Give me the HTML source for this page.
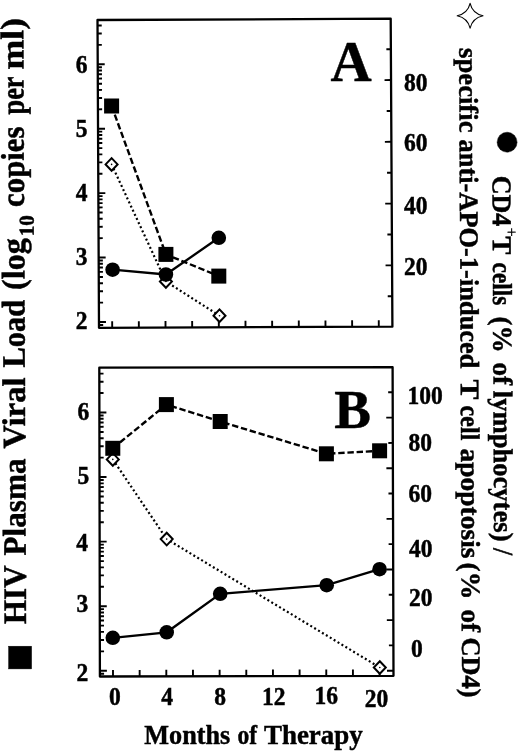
<!DOCTYPE html>
<html lang="en"><head><meta charset="utf-8"><title>Figure</title>
<style>html,body{margin:0;padding:0;background:#fff;overflow:hidden}svg{display:block;filter:blur(0.3px)}</style></head>
<body>
<svg width="520" height="752" viewBox="0 0 520 752">
<rect width="520" height="752" fill="#fff"/>
<g id="plots">
<polygon points="97.5,20 390.7,18.7 392.4,326.7 99,327.8" fill="none" stroke="#000" stroke-width="2.3" stroke-linejoin="round"/>
<path d="M98.99 324.95L103.19 324.93M98.97 322L105.97 321.97M98.88 302.61L103.08 302.59M98.82 291.26L103.02 291.24M98.78 283.21L102.98 283.19M98.75 276.97L102.95 276.95M98.73 271.87L102.93 271.85M98.71 267.55L102.91 267.54M98.69 263.82L102.89 263.8M98.67 260.52L102.87 260.5M98.66 257.57L105.66 257.54M98.56 238.18L102.76 238.16M98.51 226.84L102.71 226.82M98.47 218.79L102.67 218.77M98.44 212.54L102.64 212.53M98.41 207.44L102.61 207.42M98.39 203.13L102.59 203.11M98.37 199.39L102.57 199.37M98.36 196.1L102.56 196.08M98.34 193.15L105.34 193.12M98.25 173.76L102.45 173.74M98.19 162.41L102.39 162.39M98.15 154.36L102.35 154.34M98.12 148.12L102.32 148.1M98.1 143.02L102.3 143M98.08 138.7L102.28 138.69M98.06 134.97L102.26 134.95M98.04 131.67L102.24 131.65M98.03 128.73L105.03 128.69M97.94 109.33L102.14 109.31M97.88 97.99L102.08 97.97M97.84 89.94L102.04 89.92M97.81 83.69L102.01 83.68M97.79 78.59L101.99 78.57M97.76 74.28L101.96 74.26M97.75 70.54L101.95 70.52M97.73 67.25L101.93 67.23M97.72 64.3L104.72 64.27M97.62 44.91L101.82 44.89M97.57 33.56L101.77 33.54M97.53 25.51L101.73 25.49M392.23 296.22L387.73 296.24M392.06 265.34L385.56 265.37M391.89 234.46L387.39 234.48M391.72 203.58L385.22 203.61M391.55 172.7L387.05 172.72M391.38 141.82L384.88 141.85M391.21 110.94L386.71 110.96M391.04 80.06L384.54 80.09M390.87 49.18L386.37 49.2M112.2 327.75L112.17 321.25M138.86 327.65L138.83 321.15M165.52 327.55L165.49 321.05M192.18 327.45L192.15 320.95M218.84 327.35L218.81 320.85M245.5 327.25L245.47 320.75M272.16 327.15L272.13 320.65M298.82 327.05L298.79 320.55M325.48 326.95L325.45 320.45M352.14 326.85L352.11 320.35M378.8 326.75L378.77 320.25" stroke="#000" stroke-width="1.9" fill="none"/>
<path d="M111.6 164.4L165.9 281.5L219.5 315.7" fill="none" stroke="#000" stroke-width="2.2" stroke-dasharray="2.0 2.55"/>
<path d="M111.6 106L165.9 254.4L218.8 276.1" fill="none" stroke="#000" stroke-width="2.4" stroke-dasharray="6.4 2.8"/>
<path d="M112.6 269.7L165.9 274.5L218.8 237.8" fill="none" stroke="#000" stroke-width="2.3"/>
<path d="M111.6 158.1L117.6 164.4L111.6 170.7L105.6 164.4z" fill="#fff" stroke="#000" stroke-width="2"/>
<circle cx="111.6" cy="164.4" r="0.8" fill="#000"/>
<path d="M165.9 275.2L171.9 281.5L165.9 287.8L159.9 281.5z" fill="#fff" stroke="#000" stroke-width="2"/>
<circle cx="165.9" cy="281.5" r="0.8" fill="#000"/>
<path d="M219.5 309.4L225.5 315.7L219.5 322L213.5 315.7z" fill="#fff" stroke="#000" stroke-width="2"/>
<circle cx="219.5" cy="315.7" r="0.8" fill="#000"/>
<rect x="104.1" y="98.5" width="15" height="15" fill="#000"/>
<rect x="158.4" y="246.9" width="15" height="15" fill="#000"/>
<rect x="211.3" y="268.6" width="15" height="15" fill="#000"/>
<circle cx="112.6" cy="269.7" r="7.3" fill="#000"/>
<circle cx="165.9" cy="274.5" r="7.3" fill="#000"/>
<circle cx="218.8" cy="237.8" r="7.3" fill="#000"/>
<polygon points="99.3,367.7 392.6,367.2 393.5,675.8 99.9,676.5" fill="none" stroke="#000" stroke-width="2.3" stroke-linejoin="round"/>
<path d="M99.89 673.75L104.09 673.75M99.89 670.8L106.89 670.79M99.85 651.36L104.05 651.35M99.83 639.99L104.03 639.98M99.81 631.92L104.01 631.91M99.8 625.66L104 625.66M99.79 620.55L103.99 620.54M99.78 616.23L103.98 616.22M99.78 612.48L103.98 612.48M99.77 609.18L103.97 609.17M99.76 606.22L106.76 606.21M99.73 586.79L103.93 586.78M99.7 575.41L103.9 575.41M99.69 567.35L103.89 567.34M99.68 561.09L103.88 561.08M99.67 555.98L103.87 555.97M99.66 551.65L103.86 551.65M99.65 547.91L103.85 547.9M99.64 544.6L103.84 544.6M99.64 541.65L106.64 541.64M99.6 522.21L103.8 522.2M99.58 510.84L103.78 510.83M99.56 502.77L103.76 502.76M99.55 496.51L103.75 496.51M99.54 491.4L103.74 491.39M99.53 487.08L103.73 487.07M99.52 483.33L103.72 483.33M99.52 480.03L103.72 480.02M99.51 477.07L106.51 477.06M99.47 457.64L103.67 457.63M99.45 446.26L103.65 446.26M99.44 438.2L103.64 438.19M99.42 431.94L103.62 431.93M99.41 426.83L103.61 426.82M99.41 422.5L103.61 422.5M99.4 418.76L103.6 418.75M99.39 415.45L103.59 415.45M99.39 412.5L106.39 412.49M99.35 393.06L103.55 393.05M99.33 381.69L103.53 381.68M99.31 373.62L103.51 373.61M393.49 670.71L386.99 670.72M393.41 645.4L388.91 645.41M393.34 620.09L386.84 620.1M393.26 594.78L388.76 594.79M393.19 569.47L386.69 569.48M393.12 544.16L388.62 544.17M393.04 518.85L386.54 518.86M392.97 493.54L388.47 493.55M392.89 468.23L386.39 468.24M392.82 442.92L388.32 442.93M392.75 417.61L386.25 417.62M392.67 392.3L388.17 392.31M113 676.47L112.99 669.97M139.66 676.41L139.65 669.91M166.32 676.34L166.31 669.84M192.98 676.28L192.97 669.78M219.64 676.21L219.63 669.71M246.3 676.15L246.29 669.65M272.96 676.09L272.95 669.59M299.62 676.02L299.61 669.52M326.28 675.96L326.27 669.46M352.94 675.9L352.93 669.4M379.6 675.83L379.59 669.33" stroke="#000" stroke-width="1.9" fill="none"/>
<path d="M112.8 459.4L166.7 539.1L379.8 667.5" fill="none" stroke="#000" stroke-width="2.2" stroke-dasharray="2.0 2.55"/>
<path d="M112.8 448.3L166.4 404.6L220.2 421.5L326.4 453.8L379.6 450.8" fill="none" stroke="#000" stroke-width="2.4" stroke-dasharray="6.4 2.8"/>
<path d="M112.8 637.8L166.7 632.3L220.2 593.8L326.7 585.2L379.6 569.2" fill="none" stroke="#000" stroke-width="2.3"/>
<path d="M112.8 453.1L118.8 459.4L112.8 465.7L106.8 459.4z" fill="#fff" stroke="#000" stroke-width="2"/>
<circle cx="112.8" cy="459.4" r="0.8" fill="#000"/>
<path d="M166.7 532.8L172.7 539.1L166.7 545.4L160.7 539.1z" fill="#fff" stroke="#000" stroke-width="2"/>
<circle cx="166.7" cy="539.1" r="0.8" fill="#000"/>
<path d="M379.8 661.2L385.8 667.5L379.8 673.8L373.8 667.5z" fill="#fff" stroke="#000" stroke-width="2"/>
<circle cx="379.8" cy="667.5" r="0.8" fill="#000"/>
<rect x="105.3" y="440.8" width="15" height="15" fill="#000"/>
<rect x="158.9" y="397.1" width="15" height="15" fill="#000"/>
<rect x="212.7" y="414" width="15" height="15" fill="#000"/>
<rect x="318.9" y="446.3" width="15" height="15" fill="#000"/>
<rect x="372.1" y="443.3" width="15" height="15" fill="#000"/>
<circle cx="112.8" cy="637.8" r="7.3" fill="#000"/>
<circle cx="166.7" cy="632.3" r="7.3" fill="#000"/>
<circle cx="220.2" cy="593.8" r="7.3" fill="#000"/>
<circle cx="326.7" cy="585.2" r="7.3" fill="#000"/>
<circle cx="379.6" cy="569.2" r="7.3" fill="#000"/>
</g>
<g font-family="'Liberation Serif', 'Times New Roman', serif" font-weight="bold" fill="#000" stroke="#000" stroke-width="0.45">
<text transform="translate(81.6,72.62) scale(1,1.06)" font-size="23.5" text-anchor="middle">6</text>
<text transform="translate(81.6,137.02) scale(1,1.06)" font-size="23.5" text-anchor="middle">5</text>
<text transform="translate(81.6,201.42) scale(1,1.06)" font-size="23.5" text-anchor="middle">4</text>
<text transform="translate(81.6,265.42) scale(1,1.06)" font-size="23.5" text-anchor="middle">3</text>
<text transform="translate(81.6,328.72) scale(1,1.06)" font-size="23.5" text-anchor="middle">2</text>
<text transform="translate(83.3,420.22) scale(1,1.06)" font-size="23.5" text-anchor="middle">6</text>
<text transform="translate(83.3,483.62) scale(1,1.06)" font-size="23.5" text-anchor="middle">5</text>
<text transform="translate(82.2,551.22) scale(1,1.06)" font-size="23.5" text-anchor="middle">4</text>
<text transform="translate(82.4,611.72) scale(1,1.06)" font-size="23.5" text-anchor="middle">3</text>
<text transform="translate(82.4,680.52) scale(1,1.06)" font-size="23.5" text-anchor="middle">2</text>
<text transform="translate(404,90.82) scale(1,1.06)" font-size="23.5" text-anchor="start">80</text>
<text transform="translate(404,150.82) scale(1,1.06)" font-size="23.5" text-anchor="start">60</text>
<text transform="translate(404,213.62) scale(1,1.06)" font-size="23.5" text-anchor="start">40</text>
<text transform="translate(404,274.72) scale(1,1.06)" font-size="23.5" text-anchor="start">20</text>
<text transform="translate(407.5,404.42) scale(1,1.06)" font-size="23.5" text-anchor="start">100</text>
<text transform="translate(408.6,451.22) scale(1,1.06)" font-size="23.5" text-anchor="start">80</text>
<text transform="translate(408.6,501.72) scale(1,1.06)" font-size="23.5" text-anchor="start">60</text>
<text transform="translate(409,556.52) scale(1,1.06)" font-size="23.5" text-anchor="start">40</text>
<text transform="translate(409,605.72) scale(1,1.06)" font-size="23.5" text-anchor="start">20</text>
<text transform="translate(411,657.22) scale(1,1.06)" font-size="23.5" text-anchor="start">0</text>
<text transform="translate(114.9,705.02) scale(1,1.06)" font-size="23.5" text-anchor="middle">0</text>
<text transform="translate(167.2,705.02) scale(1,1.06)" font-size="23.5" text-anchor="middle">4</text>
<text transform="translate(220,705.02) scale(1,1.06)" font-size="23.5" text-anchor="middle">8</text>
<text transform="translate(273.8,705.32) scale(1,1.06)" font-size="23.5" text-anchor="middle">12</text>
<text transform="translate(326.3,704.42) scale(1,1.06)" font-size="23.5" text-anchor="middle">16</text>
<text transform="translate(376.6,707.42) scale(1,1.06)" font-size="23.5" text-anchor="middle">20</text>
<text x="144.3" y="743.6" font-size="27.6" text-anchor="start" textLength="86" lengthAdjust="spacingAndGlyphs">Months</text>
<text x="237.6" y="743.6" font-size="27.6" text-anchor="start" textLength="19.6" lengthAdjust="spacingAndGlyphs">of</text>
<text x="263.9" y="743.6" font-size="27.6" text-anchor="start" textLength="98.9" lengthAdjust="spacingAndGlyphs">Therapy</text>
<text x="351" y="81.4" font-size="57" text-anchor="middle" >A</text>
<text x="352.7" y="427.7" font-size="55" text-anchor="middle" >B</text>
<rect x="8.6" y="646.2" width="23" height="22.7" fill="#000"/>
<text transform="translate(26.02,624) rotate(-90.27) scale(1,1.09)" font-size="30" textLength="58.5" lengthAdjust="spacingAndGlyphs">HIV</text>
<text transform="translate(25.7,555.5) rotate(-90.27) scale(1,1.09)" font-size="30" textLength="97" lengthAdjust="spacingAndGlyphs">Plasma</text>
<text transform="translate(25.2,448.5) rotate(-90.27) scale(1,1.09)" font-size="30" textLength="71" lengthAdjust="spacingAndGlyphs">Viral</text>
<text transform="translate(24.83,367.5) rotate(-90.27) scale(1,1.09)" font-size="30" textLength="67.7" lengthAdjust="spacingAndGlyphs">Load</text>
<text transform="translate(24.47,290) rotate(-90.27) scale(1,1.09)" font-size="30" textLength="51.9" lengthAdjust="spacingAndGlyphs">(log</text>
<text transform="translate(33.82,236.3) rotate(-90.27) scale(1,1.09)" font-size="19.5" textLength="21" lengthAdjust="spacingAndGlyphs">10</text>
<text transform="translate(24.08,206.9) rotate(-90.27) scale(1,1.09)" font-size="30" textLength="80.4" lengthAdjust="spacingAndGlyphs">copies</text>
<text transform="translate(23.65,114.5) rotate(-90.27) scale(1,1.09)" font-size="30" textLength="38" lengthAdjust="spacingAndGlyphs">per</text>
<text transform="translate(23.44,69.5) rotate(-90.27) scale(1,1.09)" font-size="30" textLength="51.6" lengthAdjust="spacingAndGlyphs">ml)</text>
<circle cx="507.1" cy="142.2" r="10" fill="#000"/>
<text transform="translate(492.49,175.7) rotate(89.73) scale(1,1.05)" font-size="26" textLength="50.6" lengthAdjust="spacingAndGlyphs">CD4</text>
<text transform="translate(505.93,227.8) rotate(89.73) scale(1,1.05)" font-size="16" font-weight="normal" stroke-width="0.3">+</text>
<text transform="translate(492.77,236.5) rotate(89.73) scale(1,1.05)" font-size="26" textLength="18" lengthAdjust="spacingAndGlyphs">T</text>
<text transform="translate(492.89,262.5) rotate(89.73) scale(1,1.05)" font-size="26" textLength="43" lengthAdjust="spacingAndGlyphs">cells</text>
<text transform="translate(493.15,316.5) rotate(89.73) scale(1,1.05)" font-size="26" textLength="36.4" lengthAdjust="spacingAndGlyphs">(%</text>
<text transform="translate(493.36,362.5) rotate(89.73) scale(1,1.05)" font-size="26" textLength="22.6" lengthAdjust="spacingAndGlyphs">of</text>
<text transform="translate(493.5,390.8) rotate(89.73) scale(1,1.05)" font-size="26" textLength="150.7" lengthAdjust="spacingAndGlyphs">lymphocytes)</text>
<text transform="translate(493.74,548) rotate(89.73) scale(1,1.05)" font-size="26.5" font-weight="normal" stroke-width="0.7">/</text>
<text transform="translate(459.17,48.1) rotate(89.73) scale(1,1.03)" font-size="26" textLength="84.4" lengthAdjust="spacingAndGlyphs">specific</text>
<text transform="translate(459.6,139.5) rotate(89.73) scale(1,1.03)" font-size="26" textLength="229" lengthAdjust="spacingAndGlyphs">anti-APO-1-induced</text>
<text transform="translate(460.73,379.5) rotate(89.73) scale(1,1.03)" font-size="26" textLength="20" lengthAdjust="spacingAndGlyphs">T</text>
<text transform="translate(460.85,405.5) rotate(89.73) scale(1,1.03)" font-size="26" textLength="35" lengthAdjust="spacingAndGlyphs">cell</text>
<text transform="translate(461.06,448.5) rotate(89.73) scale(1,1.03)" font-size="26" textLength="110" lengthAdjust="spacingAndGlyphs">apoptosis</text>
<text transform="translate(461.59,562.5) rotate(89.73) scale(1,1.03)" font-size="26" textLength="37" lengthAdjust="spacingAndGlyphs">(%</text>
<text transform="translate(461.81,609.5) rotate(89.73) scale(1,1.03)" font-size="26" textLength="22.5" lengthAdjust="spacingAndGlyphs">of</text>
<text transform="translate(461.94,637.5) rotate(89.73) scale(1,1.03)" font-size="26" textLength="60" lengthAdjust="spacingAndGlyphs">CD4)</text>
<path d="M470.1 3.4Q472.4 13.4 483 15.8Q472.4 18.2 470.1 28.2Q467.8 18.2 457.2 15.8Q467.8 13.4 470.1 3.4z" fill="#fff" stroke="#000" stroke-width="1.1" stroke-linejoin="round"/>
</g>
</svg>
</body></html>
